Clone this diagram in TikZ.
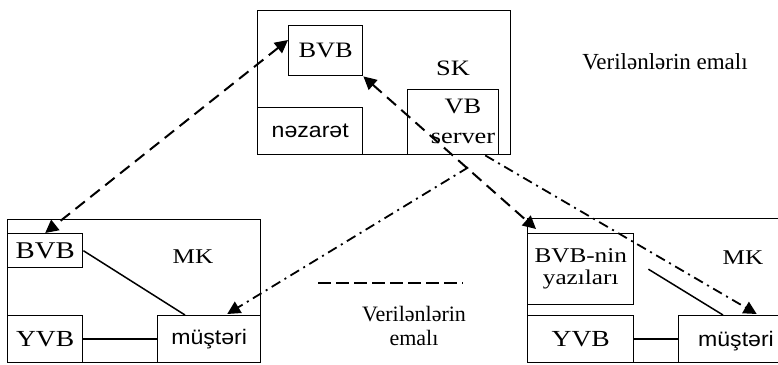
\documentclass[tikz,border=0pt]{standalone}
\usepackage{fontspec}
\setmainfont{Liberation Serif}
\newfontfamily\srf{Liberation Serif}[FakeStretch=1.2]
\newfontfamily\snf{Liberation Sans}[FakeStretch=1.1]
\usetikzlibrary{arrows.meta,calc}

\begin{document}
\begin{tikzpicture}[x=1pt,y=-1pt,
  frame/.style={draw, line width=1.4pt, inner sep=0pt, anchor=north west},
  serif/.style={font=\srf\fontsize{#1}{#1}\selectfont},
  sans/.style={font=\snf\fontsize{#1}{#1}\selectfont},
  plain/.style={font=\fontsize{#1}{24}\selectfont, align=center},
  link/.style={line width=1.5pt},
  tip/.style={-{Triangle[length=13pt,width=13pt]}},
  dbltip/.style={{Triangle[length=13pt,width=13pt]}-{Triangle[length=13pt,width=13pt]}},
  longdash/.style={line width=2pt, dash pattern=on 12pt off 7pt},
  dashdot/.style={line width=1.8pt, dash pattern=on 10pt off 5pt on 2pt off 5pt}
]
\clip (0,0) rectangle (778,364);

% server computer
\node[frame, minimum width=253pt, minimum height=144pt] (sk) at (257,10) {};
\node[frame, minimum width=74pt, minimum height=50pt, serif=22] (sbvb) at (288,25) {BVB};
\node[frame, minimum width=105pt, minimum height=47pt, sans=21] (nez) at (257,107) {nəzarət};
\node[frame, minimum width=91pt, minimum height=65pt] (vbs) at (407,89) {};
\node[serif=22, align=center] (vbtext) at (463,121) {VB\\[8pt]server};
\node[serif=22] (sklab) at (453,68) {SK};

% left client computer
\node[frame, minimum width=253pt, minimum height=143pt] (lmk) at (7,219) {};
\node[frame, minimum width=75pt, minimum height=34pt, serif=24] (lbvb) at (7,233) {BVB};
\node[frame, minimum width=75pt, minimum height=47pt, serif=23] (lyvb) at (7,315) {YVB};
\node[frame, minimum width=103pt, minimum height=47pt, sans=21] (lmus) at (157,315) {müştəri};
\node[serif=21] (lmklab) at (193,257) {MK};
\draw[link] (lbvb.east) -- ($(lmus.north west)+(28,0)$);
\draw[link] (lyvb.east) -- (lmus.west |- lyvb.east);

% right client computer
\node[frame, minimum width=263pt, minimum height=144pt] (rmk) at (527,218) {};
\node[frame, minimum width=106pt, minimum height=71pt, serif=21, align=center] (rbvb) at (527,233) {BVB-nin\\[1pt]yazıları};
\node[frame, minimum width=106pt, minimum height=47pt, serif=23] (ryvb) at (527,315) {YVB};
\node[frame, minimum width=112pt, minimum height=47pt] (rmus) at (678,315) {};
\node[sans=21] (rmustext) at (736,341) {müştəri};
\node[serif=21] (rmklab) at (743,258) {MK};
\draw[link] ($(rbvb.east)+(14,0)$) -- ($(rmus.north west)+(45,0)$);
\draw[link] (ryvb.east) -- (rmus.west |- ryvb.east);

% data links
\draw[longdash, dbltip] ($(sbvb.north west)+(0,15)$) -- (lbvb.north);
\draw[longdash, dbltip] (sbvb.south east) -- ($(rbvb.north west)+(9,-4)$);

\coordinate (apex) at ($(vbs.south)+(15,12)$);
\coordinate (vbfoot) at ($(vbs.south)+(32,0)$);
\draw[dashdot, tip] (apex) -- ($(lmus.north)+(18,-1)$);
\draw[dashdot, tip] (vbfoot) -- ($(rmus.north)+(22,-1)$);

% legend and captions
\coordinate (lga) at (318,283);
\coordinate (lgb) at (463,283);
\draw[line width=1.6pt, dash pattern=on 13pt off 5pt] (lga) -- (lgb);
\node[plain=22] (legtext) at (414,326) {Verilənlərin\\emalı};
\node[font=\fontsize{23}{25}\selectfont] (toptext) at (665,62) {Verilənlərin emalı};
\end{tikzpicture}
\end{document}
